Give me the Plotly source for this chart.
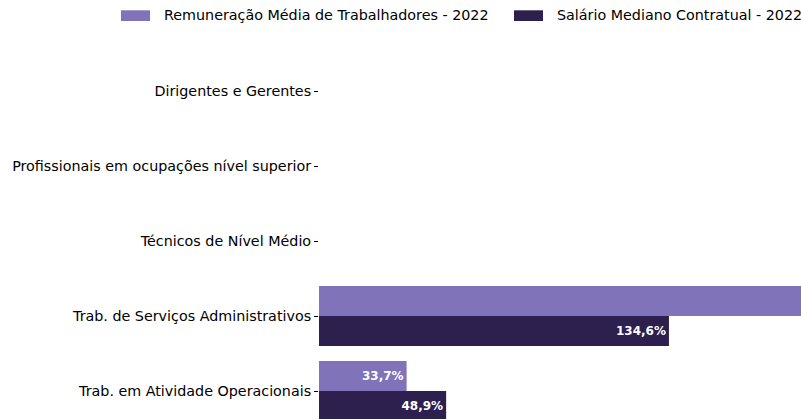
import plotly.graph_objects as go

# Categories (top to bottom) and series values in %
categorias = [
    "Dirigentes e Gerentes",
    "Profissionais em ocupações nível superior",
    "Técnicos de Nível Médio",
    "Trab. de Serviços Administrativos",
    "Trab. em Atividade Operacionais",
]
remuneracao_media = [None, None, None, 212.0, 33.7]
salario_mediano = [None, None, None, 134.6, 48.9]

serie_nomes = ["Remuneração Média de Trabalhadores - 2022", "Salário Mediano Contratual - 2022"]
cores = ["#8073BA", "#2D204E"]

FONT = "DejaVu Sans"
X_MAX = 482 / 2.6  # visible extent of the value axis


def rotulos(valores):
    # value labels for bars whose end lies inside the visible axis range
    out = []
    for v in valores:
        if v is None or v > X_MAX:
            out.append("")
        else:
            out.append("<b>" + f"{v:.1f}".replace(".", ",") + "%</b>")
    return out


fig = go.Figure()
for nome, valores, cor in zip(serie_nomes, [remuneracao_media, salario_mediano], cores):
    fig.add_trace(go.Bar(
        y=categorias, x=valores, orientation="h", name=nome,
        marker=dict(color=cor, line=dict(width=0)),
        text=rotulos(valores), textposition="inside",
        insidetextanchor="end",
        insidetextfont=dict(family=FONT, size=12, color="white"),
        showlegend=False, cliponaxis=True,
    ))

# Legend drawn as swatches + labels across the top
H = 389  # plot-area height in px
legenda = [(121, 150, 162), (514, 543, 555)]
for (x0, x1, xt), nome, cor in zip(legenda, serie_nomes, cores):
    fig.add_shape(type="rect", xref="paper", yref="paper",
                  x0=(x0 - 319) / 482, x1=(x1 - 319) / 482,
                  y0=1 + (30 - 21) / H, y1=1 + (30 - 10.3) / H,
                  fillcolor=cor, line=dict(width=0), layer="above")
    fig.add_annotation(text=nome, xref="paper", yref="paper",
                       x=(xt - 319) / 482, y=1 + (30 - 15.5) / H,
                       xanchor="left", yanchor="middle", showarrow=False,
                       font=dict(family=FONT, size=14.3, color="black"))

fig.update_layout(
    width=801, height=419,
    margin=dict(l=319, r=0, t=30, b=0),
    paper_bgcolor="white", plot_bgcolor="white",
    barmode="group", bargap=0.2, bargroupgap=0,
    font=dict(family=FONT, size=14.3, color="black"),
    xaxis=dict(range=[0, X_MAX], visible=False, fixedrange=True),
    yaxis=dict(
        categoryorder="array", categoryarray=categorias,
        range=[4 + (419 - 391) / 75, -(91 - 30) / 75],
        showgrid=False, zeroline=False, showline=False,
        ticks="outside", ticklen=4, tickcolor="black", tickwidth=1,
        ticklabelstandoff=0,
        tickfont=dict(family=FONT, size=14.3, color="black"),
    ),
)

fig.write_html("out.html")
